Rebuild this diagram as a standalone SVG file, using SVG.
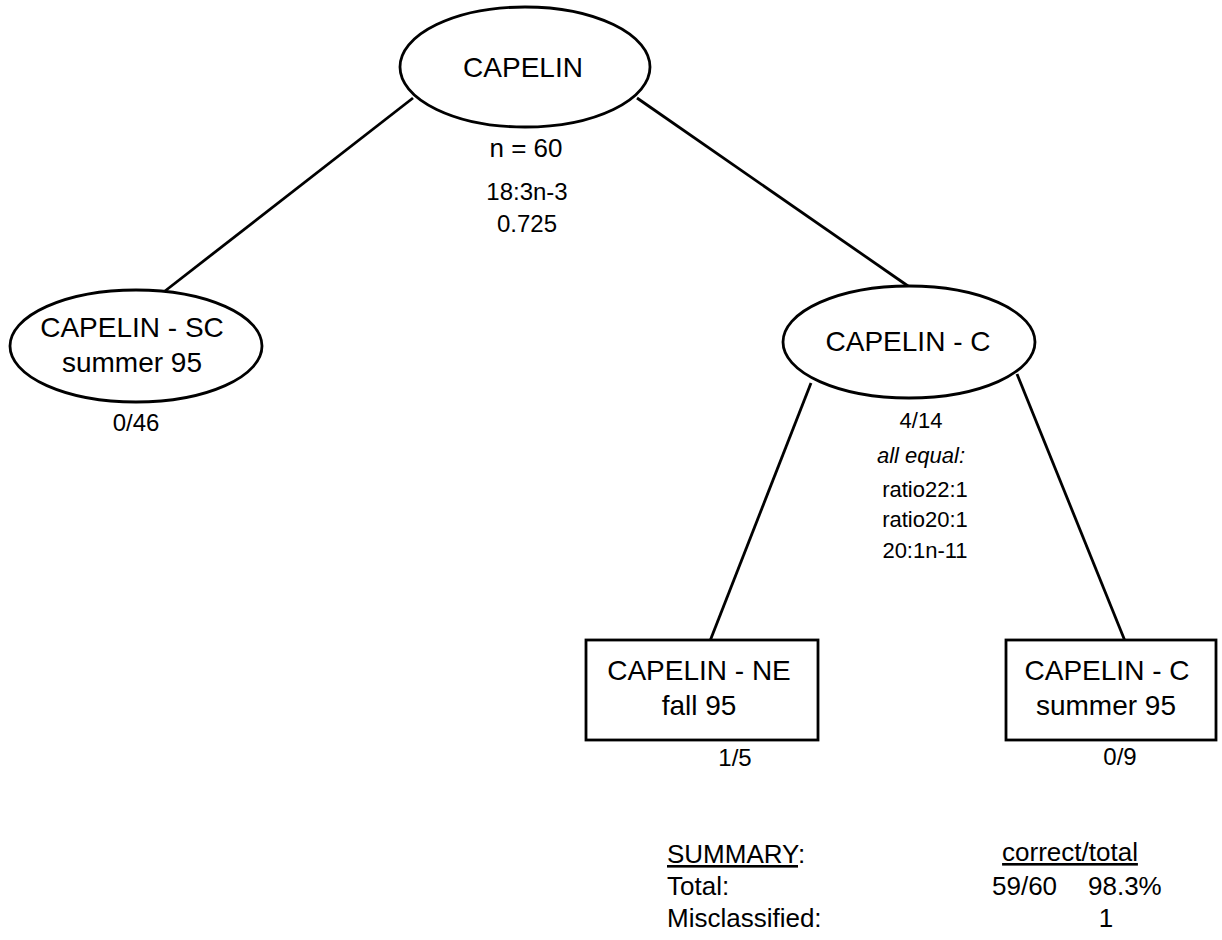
<svg xmlns="http://www.w3.org/2000/svg" width="1222" height="940" viewBox="0 0 1222 940">
<style>
text{font-family:"Liberation Sans",Arial,Helvetica,sans-serif;fill:#000;text-anchor:middle}
.shape{fill:#fff;stroke:#000;stroke-width:2.8}
.edge{stroke:#000;stroke-width:2.8;fill:none}
.big{font-size:28px}
.lbl{font-size:28px}
.sm{font-size:24px}
.xs{font-size:22px}
.sum{font-size:26px;text-anchor:start}
.u{text-decoration:underline}
</style>
<rect width="1222" height="940" fill="#fff"/>
<g id="connectors">
<line class="edge" x1="413" y1="98" x2="165" y2="291"/>
<line class="edge" x1="637" y1="98" x2="908" y2="286"/>
<line class="edge" x1="811" y1="383" x2="710" y2="641"/>
<line class="edge" x1="1017" y1="374" x2="1125" y2="641"/>
</g>
<g id="node-root">
<ellipse class="shape" cx="525" cy="67" rx="125" ry="60"/>
<text class="big" x="523" y="77">CAPELIN</text>
<text x="526" y="157" style="font-size:26px">n = 60</text>
<text class="sm" x="527" y="200">18:3n-3</text>
<text class="sm" x="527" y="232">0.725</text>
</g>
<g id="node-sc">
<ellipse class="shape" cx="136" cy="346" rx="126" ry="56"/>
<text class="lbl" x="132" y="337">CAPELIN - SC</text>
<text class="lbl" x="132" y="372">summer 95</text>
<text class="sm" x="136" y="431">0/46</text>
</g>
<g id="node-c">
<ellipse class="shape" cx="909" cy="342" rx="126" ry="56"/>
<text class="lbl" x="908" y="351">CAPELIN - C</text>
<text class="xs" x="921" y="428">4/14</text>
<text class="xs" x="921" y="463" font-style="italic">all equal:</text>
<text class="xs" x="925" y="497">ratio22:1</text>
<text class="xs" x="925" y="527">ratio20:1</text>
<text class="xs" x="925" y="558">20:1n-11</text>
</g>
<g id="node-ne">
<rect class="shape" x="586" y="640" width="232" height="100"/>
<text class="lbl" x="699" y="680">CAPELIN - NE</text>
<text class="lbl" x="699" y="715">fall 95</text>
<text class="sm" x="735" y="766">1/5</text>
</g>
<g id="node-c-summer">
<rect class="shape" x="1006" y="640" width="210" height="100"/>
<text class="lbl" x="1107" y="680">CAPELIN - C</text>
<text class="lbl" x="1106" y="715">summer 95</text>
<text class="sm" x="1120" y="765">0/9</text>
</g>
<g id="summary">
<text class="sum" x="667" y="863"><tspan class="u">SUMMARY</tspan>:</text>
<text class="sum" x="667" y="895">Total:</text>
<text class="sum" x="667" y="927">Misclassified:</text>
<text class="sum u" x="1070" y="861" style="text-anchor:middle">correct/total</text>
<text class="sum" x="992" y="895">59/60</text>
<text class="sum" x="1088" y="895">98.3%</text>
<text class="sum" x="1106" y="927" style="text-anchor:middle">1</text>
</g>
</svg>
